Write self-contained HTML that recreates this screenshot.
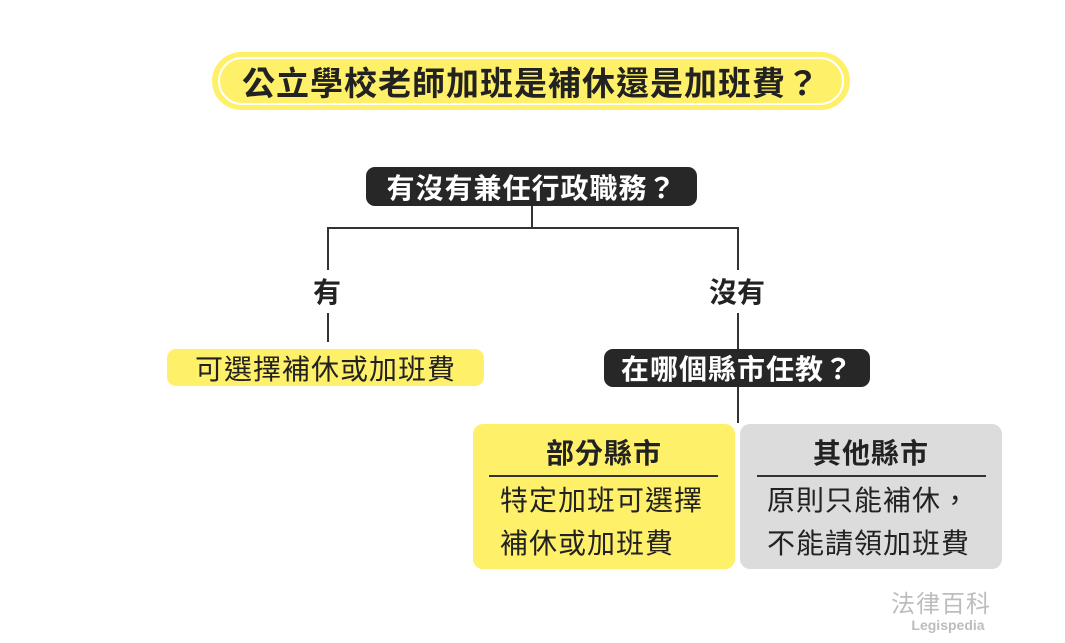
<!DOCTYPE html>
<html><head><meta charset="utf-8"><style>
body{margin:0;width:1065px;height:643px;background:#fff;position:relative;overflow:hidden;font-family:"Liberation Sans","Noto Sans CJK TC",sans-serif;color:#222}
.a{position:absolute}
.c{display:flex;align-items:center;justify-content:center}
.l{position:absolute;background:#333}
</style></head><body>
<div class="a c" style="left:212px;top:52px;width:638px;height:58px;background:#fff06a;border-radius:29px;"></div>
<div class="a c" style="left:218px;top:57px;width:622px;height:44px;border:2px solid #fff;border-radius:24px;font-size:33px;font-weight:bold;color:#222;letter-spacing:1px">公立學校老師加班是補休還是加班費？</div>

<div class="a c" style="left:366px;top:167px;width:331px;height:39px;background:#272727;border-radius:9px;color:#fff;font-size:28px;font-weight:bold;letter-spacing:1px">有沒有兼任行政職務？</div>
<div class="l" style="left:531px;top:206px;width:1.5px;height:22px"></div>
<div class="l" style="left:327px;top:227px;width:411px;height:1.5px"></div>
<div class="l" style="left:327px;top:227px;width:1.5px;height:43px"></div>
<div class="l" style="left:737px;top:227px;width:1.5px;height:43px"></div>
<div class="a c" style="left:297px;top:274px;width:60px;height:34px;font-size:28px;font-weight:bold">有</div>
<div class="a c" style="left:687px;top:274px;width:100px;height:34px;font-size:28px;font-weight:bold">沒有</div>
<div class="l" style="left:327px;top:313px;width:1.5px;height:29px"></div>
<div class="l" style="left:737px;top:313px;width:1.5px;height:36px"></div>

<div class="a c" style="left:167px;top:349px;width:317px;height:37px;background:#fff06a;border-radius:9px;font-size:28px;letter-spacing:1px">可選擇補休或加班費</div>
<div class="a c" style="left:604px;top:349px;width:266px;height:38px;background:#272727;border-radius:9px;color:#fff;font-size:28px;font-weight:bold;letter-spacing:1px">在哪個縣市任教？</div>
<div class="l" style="left:737px;top:387px;width:1.5px;height:36px"></div>

<div class="a" style="left:473px;top:424px;width:262px;height:145px;background:#fff06a;border-radius:10px"></div>
<div class="a c" style="left:473px;top:434px;width:262px;height:36px;font-size:28px;font-weight:bold;letter-spacing:1px">部分縣市</div>
<div class="l" style="left:489px;top:475px;width:229px;height:1.5px"></div>
<div class="a" style="left:500px;top:479px;font-size:28px;line-height:43px;letter-spacing:1px;white-space:nowrap">特定加班可選擇<br>補休或加班費</div>

<div class="a" style="left:740px;top:424px;width:262px;height:145px;background:#dcdcdc;border-radius:10px"></div>
<div class="a c" style="left:740px;top:434px;width:262px;height:36px;font-size:28px;font-weight:bold;letter-spacing:1px">其他縣市</div>
<div class="l" style="left:757px;top:475px;width:229px;height:1.5px"></div>
<div class="a" style="left:767px;top:479px;font-size:28px;line-height:43px;letter-spacing:1px;white-space:nowrap">原則只能補休，<br>不能請領加班費</div>

<div class="a" style="left:891px;top:584px;font-size:24px;color:#bdbdbd;letter-spacing:1px">法律百科</div>
<div class="a" style="left:900px;top:617px;width:96px;text-align:center;font-size:14px;font-weight:bold;color:#bdbdbd">Legispedia</div>
</body></html>
